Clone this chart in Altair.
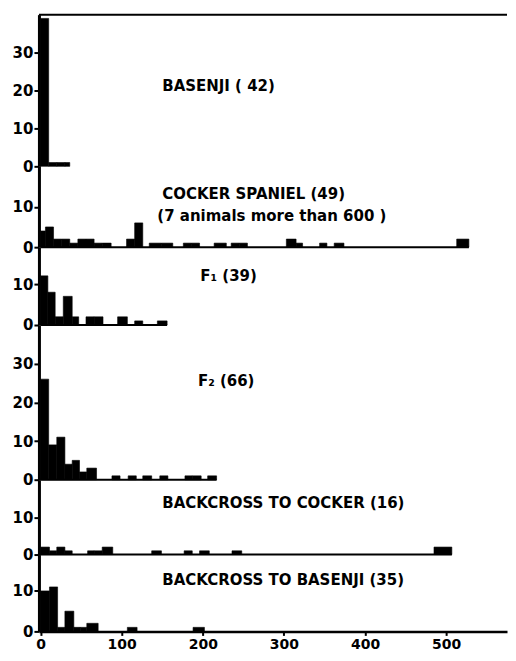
import altair as alt
import pandas as pd

# x-range of the shared scale (time units)
X_DOMAIN = [-2, 575]
X_TICKS = [0, 100, 200, 300, 400, 500]

# ---- data: bin start, bin end, count ----
basenji_lo = [0, 10, 20, 30]
basenji_hi = [10, 20, 30, 36]
basenji_n = [39, 1, 1, 1]

cocker_lo = [0, 6, 16, 26, 36, 46, 56, 66, 76, 106, 116, 134, 149, 176, 186, 214, 235, 245, 303, 315, 344, 362, 513]
cocker_hi = [6, 16, 26, 36, 46, 56, 66, 76, 87, 116, 126, 149, 163, 186, 196, 229, 245, 255, 315, 323, 353, 374, 528]
cocker_n = [4, 5, 2, 2, 1, 2, 2, 1, 1, 2, 6, 1, 1, 1, 1, 1, 1, 1, 2, 1, 1, 1, 2]

f1_lo = [0, 9, 18, 28, 39, 56, 66, 95, 116, 144]
f1_hi = [9, 18, 28, 39, 47, 66, 77, 107, 126, 156]
f1_n = [12, 8, 2, 7, 2, 2, 2, 2, 1, 1]

f2_lo = [0, 10, 20, 30, 39, 48, 57, 88, 108, 126, 147, 178, 187, 206]
f2_hi = [10, 20, 30, 39, 48, 57, 69, 98, 118, 137, 157, 187, 198, 217]
f2_n = [26, 9, 11, 4, 5, 2, 3, 1, 1, 1, 1, 1, 1, 1]

bcc_lo = [0, 11, 20, 30, 58, 66, 76, 137, 177, 196, 236, 485]
bcc_hi = [11, 20, 30, 39, 66, 76, 89, 149, 187, 208, 248, 507]
bcc_n = [2, 1, 2, 1, 1, 1, 2, 1, 1, 1, 1, 2]

bcb_lo = [0, 11, 21, 30, 41, 49, 57, 107, 188]
bcb_hi = [11, 21, 30, 41, 49, 57, 71, 119, 202]
bcb_n = [10, 11, 1, 5, 1, 1, 2, 1, 1]

# panel labels: text, x (time units), y (count units)
basenji_text = [("BASENJI ( 42)", 150, 21.3)]
cocker_text = [("COCKER SPANIEL (49)", 150, 13.2), ("(7 animals more than 600 )", 144, 7.8)]
f1_text = [("F\u2081 (39)", 197, 12)]
f2_text = [("F\u2082 (66)", 194, 25.4)]
bcc_text = [("BACKCROSS TO COCKER (16)", 150, 13.8)]
bcb_text = [("BACKCROSS TO BASENJI (35)", 150, 12.7)]

FONT = "DejaVu Sans"


def panel(lo, hi, n, texts, ymax, height, yticks, top=False, bottom=False, baseline=True):
    xs = alt.Scale(domain=X_DOMAIN, nice=False, zero=False)
    ys = alt.Scale(domain=[0, ymax], nice=False)
    if bottom:
        xaxis = alt.Axis(values=X_TICKS, title=None, grid=False, domainWidth=2.5,
                         domainColor="black", tickColor="black", tickWidth=2, tickSize=4,
                         labelFont=FONT, labelFontSize=14, labelFontWeight="bold",
                         labelColor="black", labelPadding=2, labelFlush=False)
    else:
        xaxis = None
    yaxis = alt.Axis(values=yticks, title=None, grid=False, domainWidth=3,
                     domainColor="black", tickColor="black", tickWidth=2, tickSize=5,
                     labelFont=FONT, labelFontSize=15, labelFontWeight="bold",
                     labelColor="black", labelPadding=1, minExtent=31, maxExtent=31)
    df = pd.DataFrame({"lo": lo, "hi": hi, "n": n})
    bars = alt.Chart(df).mark_rect(color="black", stroke="black", strokeWidth=0.6).encode(
        x=alt.X("lo:Q", scale=xs, axis=xaxis),
        x2="hi:Q",
        y=alt.Y("n:Q", scale=ys, axis=yaxis),
        y2=alt.datum(0),
    )
    layers = [bars]
    if baseline and not bottom:
        bdf = pd.DataFrame({"x0": [0], "x1": [max(hi)]})
        layers.append(
            alt.Chart(bdf).mark_rule(color="black", strokeWidth=2).encode(
                x=alt.X("x0:Q", scale=xs),
                x2="x1:Q",
                y=alt.Y(datum=0, scale=ys),
            )
        )
    if top:
        fdf = pd.DataFrame({"x0": [X_DOMAIN[0]], "x1": [X_DOMAIN[1]]})
        layers.append(
            alt.Chart(fdf).mark_rule(color="black", strokeWidth=2).encode(
                x=alt.X("x0:Q", scale=xs),
                x2="x1:Q",
                y=alt.Y(datum=ymax, scale=ys),
            )
        )
    tdf = pd.DataFrame({"label": [t[0] for t in texts],
                        "tx": [t[1] for t in texts],
                        "ty": [t[2] for t in texts]})
    layers.append(
        alt.Chart(tdf).mark_text(align="left", baseline="middle", font=FONT,
                                 fontSize=15, fontWeight="bold", color="black").encode(
            x=alt.X("tx:Q", scale=xs),
            y=alt.Y("ty:Q", scale=ys),
            text="label:N",
        )
    )
    return alt.layer(*layers).properties(width=469, height=height)


panels = [
    panel(basenji_lo, basenji_hi, basenji_n, basenji_text, 40, 152, [0, 10, 20, 30], top=True, baseline=False),
    panel(cocker_lo, cocker_hi, cocker_n, cocker_text, 20, 81, [0, 10]),
    panel(f1_lo, f1_hi, f1_n, f1_text, 19, 78, [0, 10]),
    panel(f2_lo, f2_hi, f2_n, f2_text, 40, 155, [0, 10, 20, 30]),
    panel(bcc_lo, bcc_hi, bcc_n, bcc_text, 20, 75, [0, 10]),
    panel(bcb_lo, bcb_hi, bcb_n, bcb_text, 19, 77, [0, 10], bottom=True),
]

chart = alt.vconcat(*panels, spacing=0, bounds="flush").properties(
    padding={"left": 0, "top": 5, "right": 0, "bottom": 0}
).configure(background="white").configure_view(stroke=None)

chart.save("out.html", embed_options={"renderer": "svg", "actions": False})
